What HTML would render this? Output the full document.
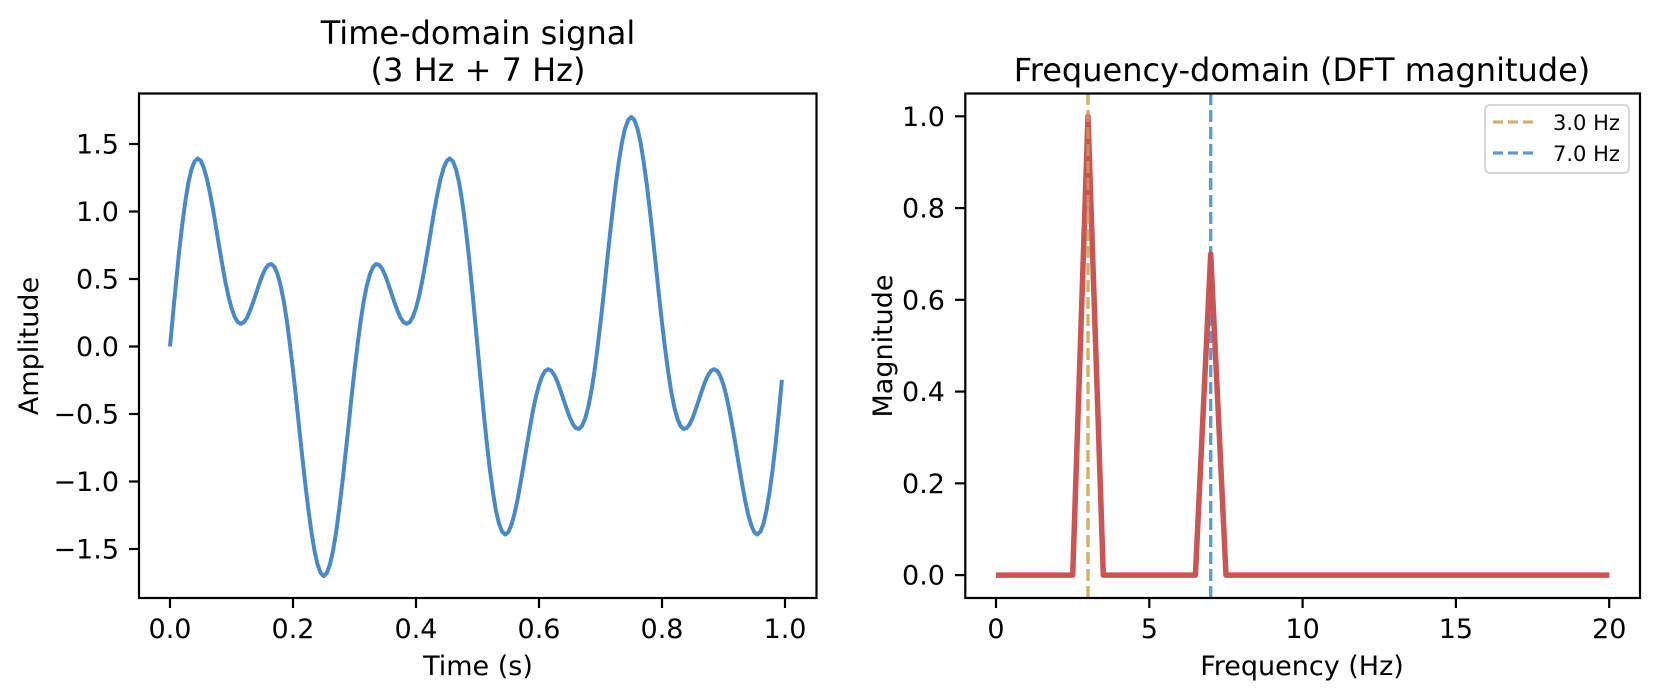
<!DOCTYPE html>
<html><head><meta charset="utf-8"><style>
html,body{margin:0;padding:0;background:#fff;}
svg{display:block;font-family:"DejaVu Sans","Liberation Sans",sans-serif;}
</style></head><body>
<svg id="s" width="1659" height="700" viewBox="0 0 1659 700" xmlns="http://www.w3.org/2000/svg">
<rect width="1659" height="700" fill="#fff"/>
<g font-size="32" text-anchor="middle" fill="#000">
<text x="478" y="44">Time-domain signal</text>
<text x="478" y="81">(3 Hz + 7 Hz)</text>
<text x="1302" y="81">Frequency-domain (DFT magnitude)</text>
</g>
<g font-size="27" fill="#000">
<text x="478" y="675" text-anchor="middle">Time (s)</text>
<text x="1302" y="675" text-anchor="middle">Frequency (Hz)</text>
<text transform="translate(38,346) rotate(-90)" text-anchor="middle">Amplitude</text>
<text transform="translate(892,346) rotate(-90)" text-anchor="middle">Magnitude</text>
</g>
<g id="ticks" font-size="27" fill="#000"></g>
<polyline id="sig" fill="none" stroke="#4a89c8" stroke-width="4" stroke-linejoin="round"/>
<line x1="1088" y1="93" x2="1088" y2="598" stroke="#d4b06b" stroke-width="3.3" stroke-dasharray="12,5"/>
<line x1="1210.7" y1="93" x2="1210.7" y2="598" stroke="#5b9bd5" stroke-width="3.3" stroke-dasharray="12,5"/>
<polyline id="dft" fill="none" stroke="#c8504f" stroke-width="5.5" stroke-linejoin="round" opacity="0.97"/>
<line x1="1088" y1="93" x2="1088" y2="598" stroke="#d4b06b" stroke-width="3.3" stroke-dasharray="12,5" opacity="0.6"/>
<rect x="139" y="93.5" width="677.5" height="504.5" fill="none" stroke="#000" stroke-width="2.2"/>
<rect x="965.3" y="93.5" width="674.7" height="504.5" fill="none" stroke="#000" stroke-width="2.2"/>
<rect x="1485" y="105" width="144" height="68" rx="5" fill="#fff" fill-opacity="0.8" stroke="#d6d6d6" stroke-width="2"/>
<line x1="1493" y1="122" x2="1537" y2="122" stroke="#d4b06b" stroke-width="3.3" stroke-dasharray="10,5"/>
<line x1="1493" y1="153" x2="1537" y2="153" stroke="#5b9bd5" stroke-width="3.3" stroke-dasharray="10,5"/>
<g font-size="21" fill="#000"><text x="1553" y="130">3.0 Hz</text><text x="1553" y="161">7.0 Hz</text></g>
</svg>
<script>
var ns="http://www.w3.org/2000/svg";
var p=[];for(var i=0;i<200;i++){var t=i*0.005;var v=Math.sin(6*Math.PI*t)+0.7*Math.sin(14*Math.PI*t);p.push((170+615*t).toFixed(1)+","+(346.5-135*v).toFixed(1));}
document.getElementById("sig").setAttribute("points",p.join(" "));
var q=[];for(var f=0;f<=20.001;f+=0.5){var m=0;if(Math.abs(f-3)<0.01)m=1;if(Math.abs(f-7)<0.01)m=0.7;q.push((996+30.67*f).toFixed(1)+","+(575.1-458.8*m).toFixed(1));}
document.getElementById("dft").setAttribute("points",q.join(" "));
var g=document.getElementById("ticks");
function L(x1,y1,x2,y2){var l=document.createElementNS(ns,"line");l.setAttribute("x1",x1);l.setAttribute("y1",y1);l.setAttribute("x2",x2);l.setAttribute("y2",y2);l.setAttribute("stroke","#000");l.setAttribute("stroke-width","2.2");g.appendChild(l);}
function T(x,y,s,a){var t=document.createElementNS(ns,"text");t.setAttribute("x",x);t.setAttribute("y",y);t.setAttribute("text-anchor",a);t.textContent=s;g.appendChild(t);}
for(var k=0;k<=5;k++){var x=170+123*k;L(x,598,x,608);T(x,638,(k*0.2).toFixed(1),"middle");}
for(var k=-3;k<=3;k++){var v=k*0.5;var y=346.5-135*v;L(129,y,139,y);T(119,y+9.5,(v<0?"\u2212":"")+Math.abs(v).toFixed(1),"end");}
for(var k=0;k<=4;k++){var x=996+153.3*k;L(x,598,x,608);T(x,638,String(k*5),"middle");}
for(var k=0;k<=5;k++){var v=k*0.2;var y=575.1-458.8*v;L(955,y,965.3,y);T(945,y+9.5,v.toFixed(1),"end");}
</script>
</body></html>
